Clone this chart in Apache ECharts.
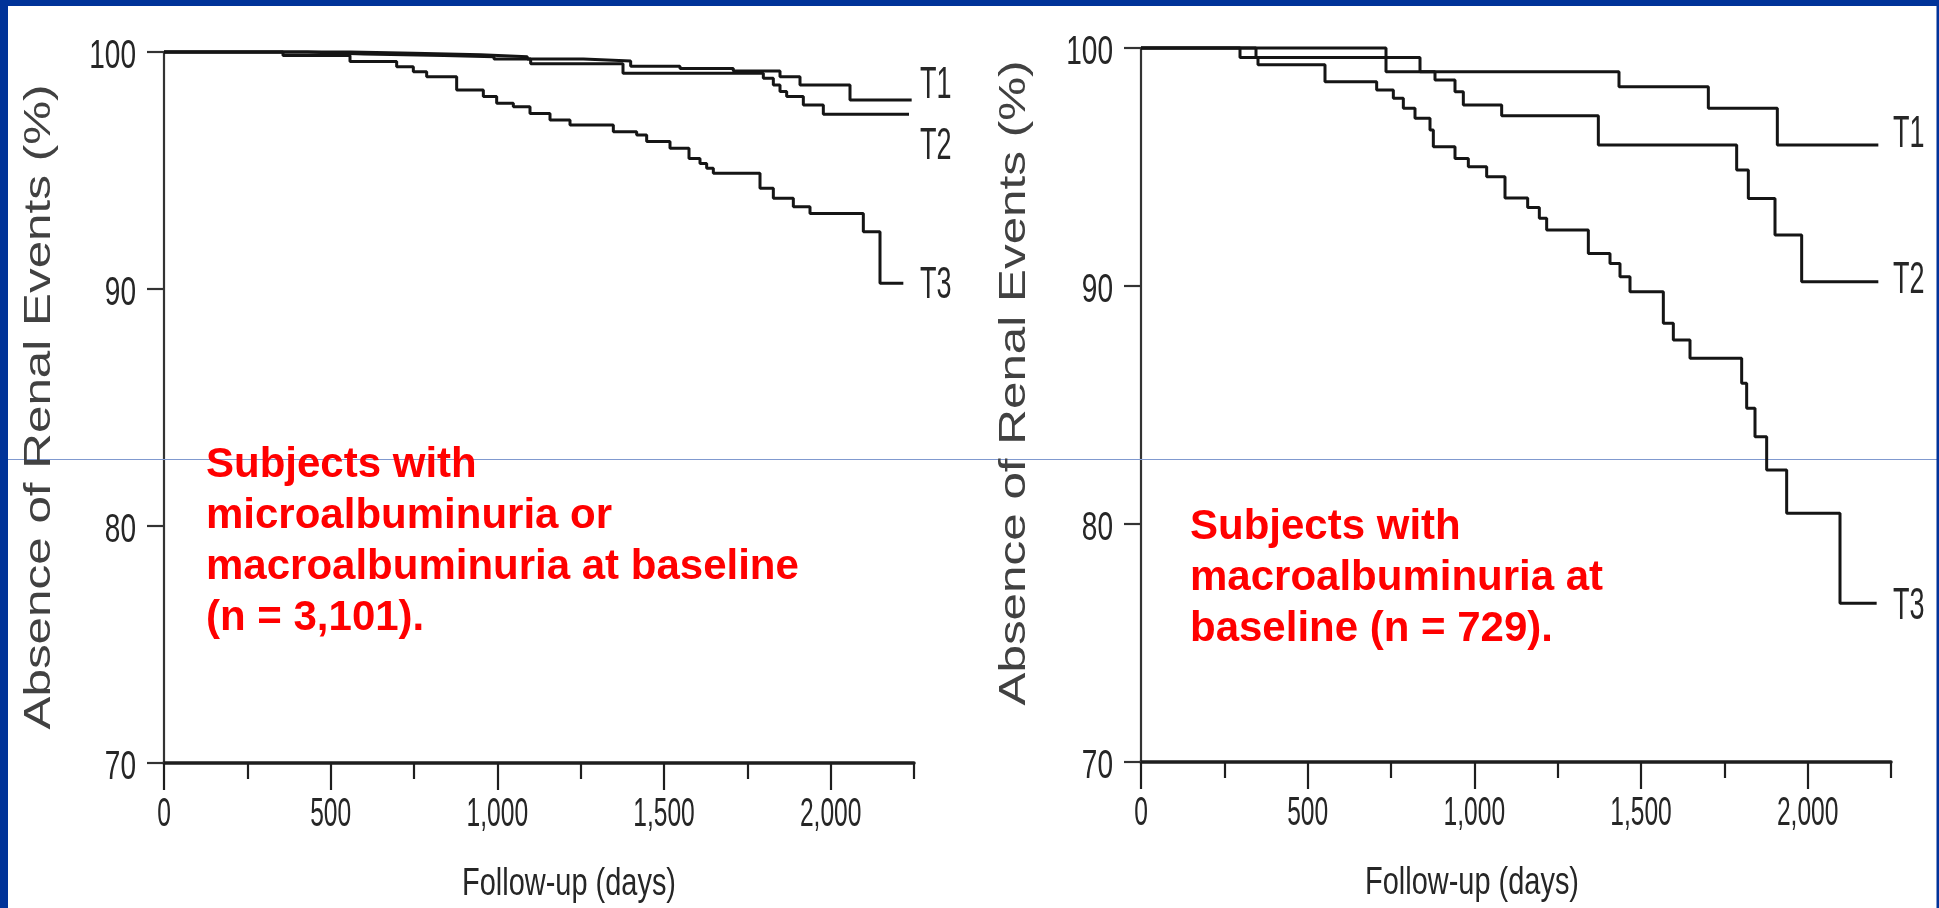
<!DOCTYPE html>
<html>
<head>
<meta charset="utf-8">
<script src="https://cdn.jsdelivr.net/npm/echarts@6/dist/echarts.min.js"></script>
<style>
html, body { margin: 0; padding: 0; background: #ffffff; }
#main { width: 1939px; height: 908px; }
</style>
</head>
<body>
<div id="main"></div>
<script>
// ---------------- data ----------------
const xTickValues = [0, 500, 1000, 1500, 2000];
const xTickLabels = ['0', '500', '1,000', '1,500', '2,000'];
const xMinorTickValues = [250, 750, 1250, 1750, 2250];
const yTickValues = [70, 80, 90, 100];
const yTickLabels = ['70', '80', '90', '100'];
const groupNames = ['T1', 'T2', 'T3'];

// [follow-up day, % free of renal events] – left panel (n = 3,101)
const leftT1 = [[0,100],[560,99.95],[750,99.88],[950,99.8],[1090,99.7],[1258,99.62],[1400,99.4],[1548,99.3],[1708,99.2],[1848,98.96],[1908,98.61],[2058,97.97],[2243,97.97]];
const leftT2 = [[0,100],[430,99.92],[600,99.85],[840,99.8],[990,99.7],[1100,99.5],[1377,99.1],[1798,98.89],[1828,98.61],[1848,98.33],[1868,98.12],[1918,97.76],[1978,97.37],[2235,97.37]];
const leftT3 = [[0,100],[357,99.85],[558,99.6],[698,99.38],[748,99.17],[788,98.96],[878,98.4],[958,98.12],[998,97.84],[1048,97.69],[1098,97.41],[1158,97.13],[1218,96.92],[1348,96.64],[1418,96.5],[1448,96.22],[1518,95.94],[1575,95.51],[1608,95.3],[1628,95.09],[1648,94.88],[1788,94.25],[1828,93.83],[1888,93.47],[1938,93.19],[2098,92.42],[2148,90.24],[2218,90.24]];

// right panel (n = 729)
const rightT1 = [[0,100],[735,99.0],[1434,98.37],[1702,97.47],[1909,95.92],[2212,95.92]];
const rightT2 = [[0,100],[345,99.6],[837,99.0],[882,98.66],[942,98.16],[967,97.6],[1082,97.15],[1372,95.92],[1787,94.87],[1822,93.68],[1902,92.14],[1982,90.18],[2212,90.18]];
const rightT3 = [[0,100],[297,99.6],[351,99.3],[552,98.58],[707,98.24],[757,97.89],[787,97.47],[822,97.05],[867,96.55],[877,95.85],[942,95.36],[982,95.01],[1037,94.59],[1092,93.7],[1160,93.3],[1195,92.85],[1217,92.35],[1342,91.37],[1407,90.95],[1437,90.39],[1467,89.76],[1567,88.43],[1597,87.73],[1647,86.96],[1802,85.91],[1817,84.86],[1842,83.67],[1877,82.27],[1937,80.45],[2097,76.67],[2207,76.67]];

const yAxisTitle = 'Absence of Renal Events (%)';
const xAxisTitle = 'Follow-up (days)';
const leftNote = ['Subjects with', 'microalbuminuria or', 'macroalbuminuria at baseline', '(n = 3,101).'];
const rightNote = ['Subjects with', 'macroalbuminuria at', 'baseline (n = 729).'];

// ---------------- style / layout ----------------
const FONT = '"Liberation Sans", Arial, Helvetica, sans-serif';
const AX = '#1e1e1e';
const CURVE = '#151515';
const TXT = '#262626';

function mainX(gridIndex) {
  return {
    type: 'value', gridIndex: gridIndex, min: 0, max: 2250, interval: 250, position: 'bottom',
    axisLine: { show: true, onZero: false, lineStyle: { color: AX, width: 3.5 } },
    axisTick: { show: true, customValues: xTickValues, length: 27, lineStyle: { color: AX, width: 2.2 } },
    axisLabel: { show: false }, splitLine: { show: false }
  };
}
function minorX(gridIndex) {
  return {
    type: 'value', gridIndex: gridIndex, min: 0, max: 2250, interval: 250, position: 'bottom', offset: 0,
    axisLine: { show: false, onZero: false },
    axisTick: { show: true, customValues: xMinorTickValues, length: 16, lineStyle: { color: AX, width: 2.2 } },
    axisLabel: { show: false }, splitLine: { show: false }
  };
}
function yAx(gridIndex) {
  return {
    type: 'value', gridIndex: gridIndex, min: 70, max: 100, interval: 10, position: 'left',
    axisLine: { show: true, onZero: false, lineStyle: { color: '#333333', width: 2.2 } },
    axisTick: { show: true, length: 17, lineStyle: { color: '#333333', width: 2.2 } },
    axisLabel: { show: false }, splitLine: { show: false }
  };
}
function curve(name, data, xi, yi) {
  return {
    type: 'line', name: name, data: data, xAxisIndex: xi, yAxisIndex: yi, step: 'end',
    symbol: 'none', showSymbol: false, clip: false, silent: true,
    lineStyle: { color: CURVE, width: 3 }
  };
}

const chart = echarts.init(document.getElementById('main'), null, { renderer: 'canvas' });
chart.setOption({
  animation: false,
  backgroundColor: '#ffffff',
  grid: [
    { left: 164, top: 52, width: 750, height: 711, containLabel: false, outerBoundsMode: 'none' },
    { left: 1141, top: 48, width: 750, height: 714, containLabel: false, outerBoundsMode: 'none' }
  ],
  xAxis: [mainX(0), minorX(0), mainX(1), minorX(1)],
  yAxis: [yAx(0), yAx(1)],
  series: [
    curve('T1', leftT1, 0, 0), curve('T2', leftT2, 0, 0), curve('T3', leftT3, 0, 0),
    curve('T1', rightT1, 2, 1), curve('T2', rightT2, 2, 1), curve('T3', rightT3, 2, 1)
  ]
});

// ---------------- text drawn through the axes' scales ----------------
function textWidth(txt, font) {
  const c = document.createElement('canvas').getContext('2d');
  c.font = font;
  return c.measureText(txt).width;
}
function txt(x, y, text, font, fill, align, valign, extra) {
  return Object.assign({
    type: 'text', x: x, y: y, z: 10,
    style: { text: text, font: font, fill: fill, align: align, textAlign: align, verticalAlign: valign, textVerticalAlign: valign }
  }, extra || {});
}

const panels = [
  { xi: 0, yi: 0, curves: [leftT1, leftT2, leftT3], labelDx: 6, labelDy: [-15, 32, 2],
    note: leftNote, noteX: 206, noteTop: 440, xTitleX: 569, yTitleX: 40, yTitleY: 407 },
  { xi: 2, yi: 1, curves: [rightT1, rightT2, rightT3], labelDx: 2, labelDy: [-11, -1, 3],
    note: rightNote, noteX: 1190, noteTop: 502, xTitleX: 1472, yTitleX: 1015, yTitleY: 383 }
];

const gfx = [];
// slide frame
gfx.push({ type: 'rect', z: 100, shape: { x: 0, y: 0, width: 1939, height: 6 }, style: { fill: '#003399' } });
gfx.push({ type: 'rect', z: 100, shape: { x: 0, y: 0, width: 8, height: 908 }, style: { fill: '#003399' } });
gfx.push({ type: 'rect', z: 100, shape: { x: 1936.5, y: 0, width: 2.5, height: 908 }, style: { fill: '#003399' } });
gfx.push({ type: 'line', z: 1, shape: { x1: 8, y1: 459.5, x2: 1937, y2: 459.5 }, style: { stroke: '#8099cf', lineWidth: 1.2 } });

const tickFontX = '41px ' + FONT;
const tickFontY = '40px ' + FONT;
const tFont = '45px ' + FONT;
const xTitleFont = '38px ' + FONT;
const yTitleFont = '37px ' + FONT;
const noteFont = 'bold 42px ' + FONT;

panels.forEach(function (p) {
  const pt = function (x, y) { return chart.convertToPixel({ xAxisIndex: p.xi, yAxisIndex: p.yi }, [x, y]); };
  xTickValues.forEach(function (v, i) {
    const q = pt(v, 70);
    gfx.push(txt(q[0], q[1] + 52, xTickLabels[i], tickFontX, TXT, 'center', 'middle', { scaleX: 0.6 }));
  });
  yTickValues.forEach(function (v, i) {
    const q = pt(0, v);
    gfx.push(txt(q[0] - 28, q[1] + 5, yTickLabels[i], tickFontY, TXT, 'right', 'middle', { scaleX: 0.7 }));
  });
  p.curves.forEach(function (c, i) {
    const last = c[c.length - 1];
    const q = pt(2250, last[1]);
    gfx.push(txt(q[0] + p.labelDx, q[1] + p.labelDy[i], groupNames[i], tFont, TXT, 'left', 'middle', { scaleX: 0.6 }));
  });
  const base = pt(0, 70);
  gfx.push(txt(p.xTitleX, base[1] + 122, xAxisTitle, xTitleFont, TXT, 'center', 'middle',
    { scaleX: 214 / textWidth(xAxisTitle, xTitleFont) }));
  gfx.push(txt(p.yTitleX, p.yTitleY, yAxisTitle, yTitleFont, '#414141', 'center', 'middle',
    { rotation: Math.PI / 2, scaleX: 645 / textWidth(yAxisTitle, yTitleFont) }));
  const note = txt(p.noteX, p.noteTop, p.note.join('\n'), noteFont, '#ff0000', 'left', 'top', {});
  note.style.lineHeight = 51;
  gfx.push(note);
});

chart.setOption({ graphic: gfx });
</script>
</body>
</html>
